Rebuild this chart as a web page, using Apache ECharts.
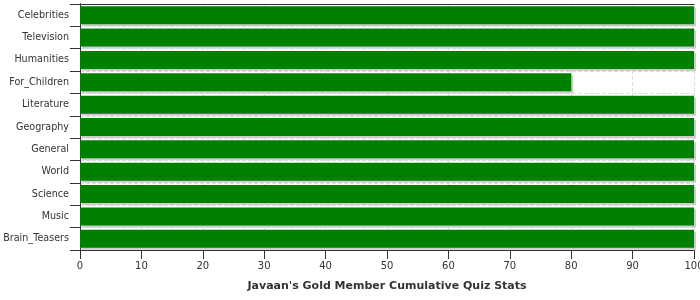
<!DOCTYPE html>
<html><head><meta charset="utf-8">
<script src="https://cdn.jsdelivr.net/npm/echarts@6/dist/echarts.min.js"></script>
<style>html,body{margin:0;padding:0;background:#fff}#c{width:700px;height:300px}</style>
</head><body><div id="c"></div>
<script>
const categories = ["Celebrities","Television","Humanities","For_Children","Literature","Geography","General","World","Science","Music","Brain_Teasers"];
const values = [100,100,100,80,100,100,100,100,100,100,100];
const xTicks = [0,10,20,30,40,50,60,70,80,90,100];
const title = "Javaan's Gold Member Cumulative Quiz Stats";

const chart = echarts.init(document.getElementById('c'), null, {renderer:'canvas'});
chart.setOption({
  animation:false,
  textStyle:{fontFamily:'DejaVu Sans'},
  grid:{left:80,right:6,top:4,bottom:50,containLabel:false,outerBoundsMode:'none'},
  xAxis:[{type:'value',min:0,max:100,interval:10,position:'bottom',
    name:title,nameLocation:'middle',nameGap:31,
    nameTextStyle:{fontWeight:'bold',fontSize:11,color:'#333',fontFamily:'DejaVu Sans'},
    axisLine:{show:true,lineStyle:{color:'#333'}},
    axisTick:{show:true,length:9,lineStyle:{color:'#333'}},
    axisLabel:{color:'#333',fontSize:10,margin:11,formatter:v=>xTicks.includes(v)?String(v):''},
    splitLine:{show:true,lineStyle:{color:'#ddd',type:'dashed'}}
  },{type:'value',min:0,max:100,interval:10,position:'top',
    axisLine:{show:true,lineStyle:{color:'#333'}},
    axisTick:{show:false},axisLabel:{show:false},splitLine:{show:false}
  }],
  yAxis:[{type:'category',data:categories,inverse:true,
    axisLine:{show:true,lineStyle:{color:'#333'}},
    axisTick:{show:true,length:10,lineStyle:{color:'#333'}},
    axisLabel:{color:'#333',fontSize:9.6,margin:11},
    splitLine:{show:true,lineStyle:{color:'#ddd',type:'dashed'}}
  },{type:'category',data:categories,inverse:true,position:'right',
    axisLine:{show:true,lineStyle:{color:'#333'}},
    axisTick:{show:false},axisLabel:{show:false},splitLine:{show:false}
  }],
  series:[{type:'bar',data:values,barWidth:18,xAxisIndex:0,yAxisIndex:0,
    itemStyle:{color:'#008000',shadowColor:'#cccccc',shadowOffsetX:2,shadowOffsetY:2,shadowBlur:0}}]
});
</script></body></html>
